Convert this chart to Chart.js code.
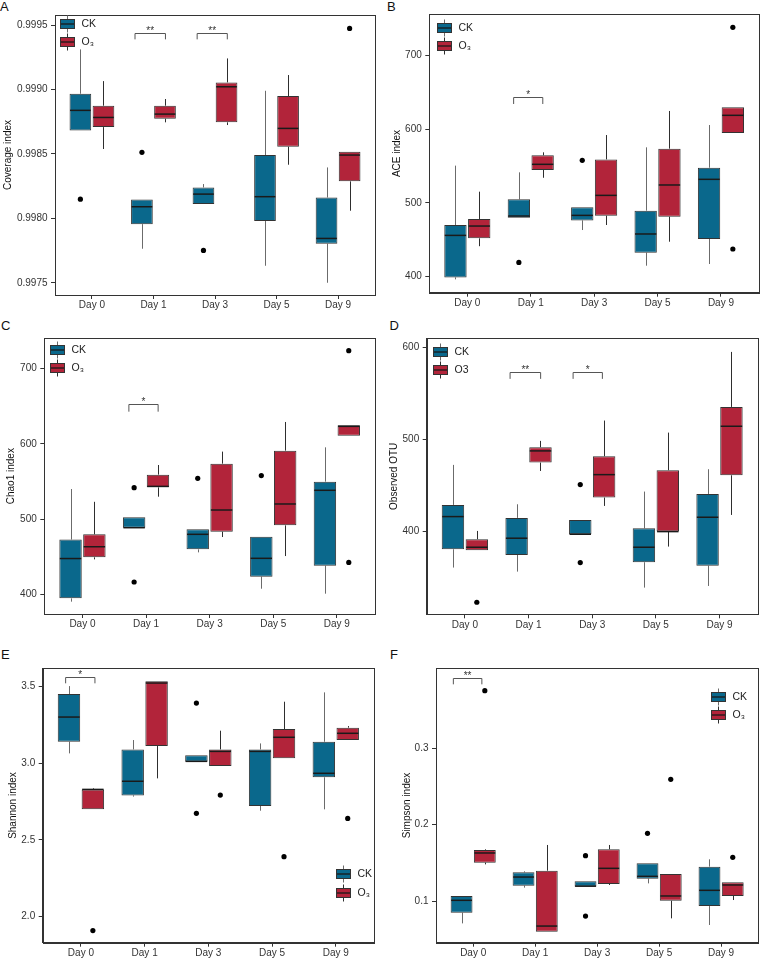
<!DOCTYPE html>
<html>
<head>
<meta charset="utf-8">
<script src="https://cdn.jsdelivr.net/npm/chart.js@4.4.1/dist/chart.umd.min.js"></script>
<style>
  html,body{margin:0;padding:0;background:#fff;}
  body{width:763px;height:959px;position:relative;overflow:hidden;font-family:"Liberation Sans",Arial,Helvetica,sans-serif;}
  .wrap{position:absolute;}
  .tag{position:absolute;font-size:13px;line-height:13px;color:#111;}
</style>
</head>
<body>
<div class="tag" style="left:0px;top:0px">A</div>
<div class="tag" style="left:387px;top:0px">B</div>
<div class="tag" style="left:1px;top:319px">C</div>
<div class="tag" style="left:389.5px;top:318.5px">D</div>
<div class="tag" style="left:1px;top:647.5px">E</div>
<div class="tag" style="left:390px;top:648px">F</div>
<script>
// ---------------- data ----------------
const days = ['Day 0', 'Day 1', 'Day 3', 'Day 5', 'Day 9'];
const groupCK = 'CK';
const groupO3 = 'O\u2083';
const groupO3plain = 'O3';
// each row: [lower whisker, Q1, median, Q3, upper whisker]; outliers: [day index, value]
// significance: [x from, x to (category units), bracket y, tip y, label]

// A  Coverage index
const coverageCK = [
  [0.998682, 0.998682, 0.998838, 0.998967, 0.999311],
  [0.997764, 0.997955, 0.998090, 0.998147, 0.998147],
  [0.998111, 0.998111, 0.998188, 0.998240, 0.998266],
  [0.997632, 0.997979, 0.998168, 0.998491, 0.998990],
  [0.997500, 0.997803, 0.997844, 0.998162, 0.998395]];
const coverageO3 = [
  [0.998538, 0.998708, 0.998783, 0.998874, 0.999065],
  [0.998745, 0.998773, 0.998809, 0.998874, 0.998926],
  [0.998724, 0.998745, 0.999021, 0.999055, 0.999241],
  [0.998416, 0.998556, 0.998698, 0.998949, 0.999112],
  [0.998059, 0.998287, 0.998491, 0.998517, 0.998517]];
const coverageCKOut = [[0, 0.998149], [1, 0.998512], [2, 0.997751]];
const coverageO3Out = [[4, 0.999474]];
const coverageTicks = [0.9975, 0.998, 0.9985, 0.999, 0.9995];
const coverageTickLabels = ['0.9975', '0.9980', '0.9985', '0.9990', '0.9995'];
const coverageSig = [[0.70, 1.195, 0.99944, 0.999389, '**'], [1.71, 2.20, 0.99944, 0.999389, '**']];

// B  ACE index
const aceCK = [
  [395.9, 398.6, 455.7, 469.8, 550.5],
  [479.8, 479.8, 482.0, 504.7, 541.4],
  [463.0, 476.1, 482.9, 493.8, 493.8],
  [414.5, 432.2, 457.6, 489.3, 575.4],
  [416.8, 450.8, 531.9, 547.7, 605.7]];
const aceO3 = [
  [441.0, 451.7, 468.4, 478.0, 515.1],
  [534.0, 544.6, 552.3, 564.5, 568.6],
  [469.8, 482.5, 510.1, 559.0, 592.1],
  [447.1, 481.1, 524.2, 573.6, 624.8],
  [594.9, 594.9, 618.9, 629.8, 629.8]];
const aceCKOut = [[1, 419.0], [2, 557.7]];
const aceO3Out = [[4, 738.5], [4, 437.2]];
const aceTicks = [400, 500, 600, 700];
const aceTickLabels = ['400', '500', '600', '700'];
const aceSig = [[0.73, 1.19, 643.4, 634.3, '*']];

// C  Chao1 index
const chaoCK = [
  [390.3, 394.7, 447.6, 472.9, 540.0],
  [488.6, 488.6, 488.6, 502.4, 502.4],
  [455.8, 459.8, 479.8, 486.4, 486.4],
  [407.5, 423.5, 447.9, 476.7, 476.7],
  [400.9, 438.1, 538.3, 549.8, 595.4]];
const chaoO3 = [
  [446.5, 449.2, 463.3, 479.8, 523.0],
  [529.8, 542.2, 543.5, 559.1, 571.9],
  [476.2, 483.3, 512.1, 573.7, 589.7],
  [450.9, 491.7, 520.1, 591.0, 629.1],
  [610.9, 610.9, 623.3, 624.7, 624.7]];
const chaoCKOut = [[1, 541.8], [1, 416.4], [2, 554.2], [3, 557.8]];
const chaoO3Out = [[4, 723.9], [4, 442.5]];
const chaoTicks = [400, 500, 600, 700];
const chaoTickLabels = ['400', '500', '600', '700'];
const chaoSig = [[0.73, 1.19, 652.6, 642.8, '*']];

// D  Observed OTU
const otuCK = [
  [360.9, 380.8, 416.3, 429.0, 472.5],
  [356.5, 374.6, 392.8, 414.9, 429.7],
  [397.1, 397.1, 397.1, 412.7, 412.7],
  [339.1, 366.7, 383.0, 403.6, 443.5],
  [340.9, 363.0, 415.6, 440.9, 467.8]];
const otuO3 = [
  [379.7, 379.7, 383.0, 391.7, 400.7],
  [465.9, 475.0, 487.7, 491.7, 498.6],
  [427.9, 437.0, 461.9, 481.9, 520.7],
  [383.7, 400.0, 400.0, 466.7, 507.6],
  [418.1, 461.2, 514.5, 535.5, 595.3]];
const otuCKOut = [[2, 451.1], [2, 366.3]];
const otuO3Out = [[0, 323.2]];
const otuTicks = [400, 500, 600];
const otuTickLabels = ['400', '500', '600'];
const otuSig = [[0.71, 1.19, 573.2, 566.0, '**'], [1.70, 2.16, 573.2, 566.0, '*']];

// E  Shannon index
const shannonCK = [
  [3.065, 3.141, 3.302, 3.452, 3.504],
  [2.783, 2.791, 2.883, 3.091, 3.152],
  [3.011, 3.011, 3.013, 3.052, 3.052],
  [2.691, 2.722, 3.078, 3.091, 3.130],
  [2.700, 2.909, 2.935, 3.141, 3.463]];
const shannonO3 = [
  [2.700, 2.700, 2.830, 2.830, 2.837],
  [2.902, 3.113, 3.524, 3.535, 3.535],
  [2.983, 2.983, 3.078, 3.091, 3.213],
  [3.033, 3.033, 3.170, 3.224, 3.402],
  [3.152, 3.152, 3.196, 3.233, 3.243]];
const shannonCKOut = [[2, 3.393], [2, 2.674]];
const shannonO3Out = [[0, 1.909], [2, 2.793], [3, 2.391], [4, 2.641]];
const shannonTicks = [2.0, 2.5, 3.0, 3.5];
const shannonTickLabels = ['2.0', '2.5', '3.0', '3.5'];
const shannonSig = [[-0.24, 0.22, 3.563, 3.522, '*']];

// F  Simpson index
const simpsonCK = [
  [0.0707, 0.0847, 0.1009, 0.1066, 0.1066],
  [0.1175, 0.1201, 0.1314, 0.1376, 0.1389],
  [0.1188, 0.1188, 0.1195, 0.1258, 0.1258],
  [0.1231, 0.1293, 0.1323, 0.1493, 0.1493],
  [0.0686, 0.0934, 0.1140, 0.1450, 0.1546]];
const simpsonO3 = [
  [0.1480, 0.1502, 0.1629, 0.1668, 0.1677],
  [0.0598, 0.0598, 0.0672, 0.1397, 0.1734],
  [0.1210, 0.1223, 0.1428, 0.1677, 0.1734],
  [0.0773, 0.1004, 0.1066, 0.1354, 0.1354],
  [0.1013, 0.1066, 0.1210, 0.1245, 0.1245]];
const simpsonCKOut = [[2, 0.1594], [2, 0.0803], [3, 0.1886]];
const simpsonO3Out = [[0, 0.3755], [3, 0.2594], [4, 0.1572]];
const simpsonTicks = [0.1, 0.2, 0.3];
const simpsonTickLabels = ['0.1', '0.2', '0.3'];
const simpsonSig = [[-0.32, 0.14, 0.3917, 0.3838, '**']];

// ---------------- style / layout ----------------
const FONT = '"Liberation Sans", Arial, Helvetica, sans-serif';
const CK_FILL = '#0a688c';
const O3_FILL = '#b2243a';
const BOX_LINE = '#333333';
const AXIS = '#333333';
const CAT_PCT = 0.75;          // dodge width
const DODGE = CAT_PCT / 4;     // centre offset of each group's box

const panels = [
  {wrap:[0,0,380,317],   yW:55,   padTop:15,   padRight:5,   xH:22,   titlePad:1.8,
   title:'Coverage index', range:[0.997405, 0.999578], ck:coverageCK, o3:coverageO3,
   ckOut:coverageCKOut, o3Out:coverageO3Out, ticks:coverageTicks, tickLabels:coverageTickLabels,
   sig:coverageSig, o3Name:groupO3, legend:{dx:5, dy:9}},
  {wrap:[380,0,383,315], yW:49.3, padTop:14.3, padRight:1.3, xH:22.3, titlePad:11,
   title:'ACE index', range:[377.8, 756.2], ck:aceCK, o3:aceO3,
   ckOut:aceCKOut, o3Out:aceO3Out, ticks:aceTicks, tickLabels:aceTickLabels,
   sig:aceSig, o3Name:groupO3, legend:{dx:8, dy:13.2}},
  {wrap:[0,310,380,326], yW:44.3, padTop:28.3, padRight:5,   xH:22,   titlePad:5.7,
   title:'Chao1 index', range:[373.9, 740.3], ck:chaoCK, o3:chaoO3,
   ckOut:chaoCKOut, o3Out:chaoO3Out, ticks:chaoTicks, tickLabels:chaoTickLabels,
   sig:chaoSig, o3Name:groupO3, legend:{dx:5.7, dy:11.7}},
  {wrap:[380,310,383,326], yW:46.7, padTop:28.3, padRight:5.3, xH:21.7, titlePad:8.7,
   title:'Observed OTU', range:[310.1, 610.1], ck:otuCK, o3:otuO3,
   ckOut:otuCKOut, o3Out:otuO3Out, ticks:otuTicks, tickLabels:otuTickLabels,
   sig:otuSig, o3Name:groupO3plain, legend:{dx:6.6, dy:13.4}},
  {wrap:[0,620,380,339], yW:42.7, padTop:48.3, padRight:6,   xH:16.3, titlePad:7.7,
   title:'Shannon index', range:[1.830, 3.620], ck:shannonCK, o3:shannonO3,
   ckOut:shannonCKOut, o3Out:shannonO3Out, ticks:shannonTicks, tickLabels:shannonTickLabels,
   sig:shannonSig, o3Name:groupO3, legend:{dx:293.3, dy:206}},
  {wrap:[380,620,383,339], yW:56, padTop:48.3, padRight:4.7, xH:16.3, titlePad:21.5,
   title:'Simpson index', range:[0.0454, 0.4048], ck:simpsonCK, o3:simpsonO3,
   ckOut:simpsonCKOut, o3Out:simpsonO3Out, ticks:simpsonTicks, tickLabels:simpsonTickLabels,
   sig:simpsonSig, o3Name:groupO3, legend:{dx:275, dy:28.7}}
];

// ---------------- box-plot plugin (whiskers, medians, frame, brackets, legend) ----------------
const boxPlugin = {
  id: 'boxplot',
  beforeDatasetsDraw(chart) {
    const ctx = chart.ctx, ys = chart.scales.y;
    chart.data.datasets.forEach((ds, di) => {
      if (!ds.stats) return;
      const meta = chart.getDatasetMeta(di);
      ctx.save();
      ctx.strokeStyle = ds.whiskerColor;
      ctx.lineWidth = 1;
      meta.data.forEach((el, j) => {
        const s = ds.stats[j];
        const x = Math.round(el.x) + 0.5;
        ctx.beginPath();
        ctx.moveTo(x, ys.getPixelForValue(s[4])); ctx.lineTo(x, ys.getPixelForValue(s[3]));
        ctx.moveTo(x, ys.getPixelForValue(s[1])); ctx.lineTo(x, ys.getPixelForValue(s[0]));
        ctx.stroke();
      });
      ctx.restore();
    });
  },
  afterDatasetsDraw(chart) {
    const ctx = chart.ctx, ys = chart.scales.y;
    chart.data.datasets.forEach((ds, di) => {
      if (!ds.stats) return;
      const meta = chart.getDatasetMeta(di);
      ctx.save();
      ctx.strokeStyle = '#1a1a1a';
      ctx.lineWidth = 1.5;
      meta.data.forEach((el, j) => {
        const y = ys.getPixelForValue(ds.stats[j][2]);
        ctx.beginPath();
        ctx.moveTo(el.x - el.width / 2 + 0.5, y);
        ctx.lineTo(el.x + el.width / 2 - 0.5, y);
        ctx.stroke();
      });
      ctx.restore();
    });
  },
  afterDraw(chart, args, opts) {
    const ctx = chart.ctx, a = chart.chartArea, xs = chart.scales.x, ys = chart.scales.y;
    ctx.save();
    // frame
    ctx.strokeStyle = AXIS; ctx.lineWidth = 1;
    ctx.strokeRect(Math.round(a.left) + 0.5, Math.round(a.top) + 0.5,
                   Math.round(a.right) - Math.round(a.left), Math.round(a.bottom) - Math.round(a.top));
    // significance brackets
    (opts.sig || []).forEach(s => {
      const x1 = xs.getPixelForValue(s[0]), x2 = xs.getPixelForValue(s[1]);
      const yt = Math.round(ys.getPixelForValue(s[2])) + 0.5, yb = ys.getPixelForValue(s[3]);
      ctx.strokeStyle = '#555'; ctx.lineWidth = 1;
      ctx.beginPath();
      ctx.moveTo(x1, yb); ctx.lineTo(x1, yt); ctx.lineTo(x2, yt); ctx.lineTo(x2, yb);
      ctx.stroke();
      ctx.fillStyle = '#333';
      ctx.font = '10px ' + FONT;
      ctx.textAlign = 'center'; ctx.textBaseline = 'alphabetic';
      ctx.fillText(s[4], (x1 + x2) / 2, yt + 0.5);
    });
    // legend
    const lg = opts.legend;
    const bars = chart.data.datasets.filter(d => d.stats);
    bars.forEach((ds, k) => {
      const L = Math.round(a.left + lg.dx), my = Math.round(a.top + lg.dy + k * 18.3);
      ctx.strokeStyle = ds.whiskerColor; ctx.lineWidth = 1;
      ctx.beginPath(); ctx.moveTo(L + 7.5, my - 8.5); ctx.lineTo(L + 7.5, my + 8.5); ctx.stroke();
      ctx.fillStyle = ds.backgroundColor;
      ctx.fillRect(L, my - 5, 15, 10);
      ctx.strokeStyle = BOX_LINE;
      ctx.strokeRect(L + 0.5, my - 4.5, 14, 9);
      ctx.strokeStyle = '#1a1a1a'; ctx.lineWidth = 1.3;
      ctx.beginPath(); ctx.moveTo(L + 1, my); ctx.lineTo(L + 14, my); ctx.stroke();
      ctx.fillStyle = '#222';
      ctx.font = '10.5px ' + FONT;
      ctx.textAlign = 'left'; ctx.textBaseline = 'middle';
      ctx.fillText(ds.label, L + 21.5, my + 0.5);
    });
    ctx.restore();
  }
};

function buildPanel(p) {
  const wrap = document.createElement('div');
  wrap.className = 'wrap';
  wrap.style.left = p.wrap[0] + 'px'; wrap.style.top = p.wrap[1] + 'px';
  wrap.style.width = p.wrap[2] + 'px'; wrap.style.height = p.wrap[3] + 'px';
  const cv = document.createElement('canvas');
  cv.width = p.wrap[2]; cv.height = p.wrap[3];
  cv.style.width = p.wrap[2] + 'px'; cv.style.height = p.wrap[3] + 'px';
  wrap.appendChild(cv);
  document.body.appendChild(wrap);

  const boxDs = (label, stats, fill, whisker) => ({
    type: 'bar', label, stats, whiskerColor: whisker,
    data: stats.map((s, i) => ({x: i, y: [s[1], s[3]]})),
    backgroundColor: fill, borderColor: BOX_LINE, borderWidth: 1, borderSkipped: false,
    categoryPercentage: CAT_PCT, barPercentage: 0.94, order: 2
  });
  const outDs = (pts, shift) => ({
    type: 'scatter', label: '',
    data: pts.map(o => ({x: o[0] + shift, y: o[1]})),
    pointRadius: 2.6, pointBackgroundColor: '#000', pointBorderWidth: 0, order: 1
  });

  new Chart(cv, {
    type: 'bar',
    data: {
      datasets: [
        boxDs(groupCK, p.ck, CK_FILL, '#6b6b6b'),
        boxDs(p.o3Name, p.o3, O3_FILL, '#2e2e2e'),
        outDs(p.ckOut, -DODGE),
        outDs(p.o3Out, DODGE)
      ]
    },
    options: {
      responsive: false, maintainAspectRatio: false, animation: false, devicePixelRatio: 1,
      events: [],
      layout: {padding: {top: p.padTop, right: p.padRight, left: 0, bottom: 0}},
      plugins: {
        legend: {display: false}, tooltip: {enabled: false}, title: {display: false},
        boxplot: {sig: p.sig, legend: p.legend}
      },
      scales: {
        x: {
          type: 'linear', min: -0.6, max: 4.6, bounds: 'data', offset: false,
          afterBuildTicks: s => { s.ticks = days.map((d, i) => ({value: i})); },
          afterFit: s => { s.height = p.xH; },
          ticks: {callback: (v, i) => days[i], font: {family: FONT, size: 10}, color: '#333',
                  padding: 0.5, maxRotation: 0, autoSkip: false},
          grid: {display: true, offset: false, drawOnChartArea: false, drawTicks: true,
                 tickLength: 4, tickColor: AXIS, tickWidth: 1},
          border: {display: true, color: AXIS, width: 1}
        },
        y: {
          type: 'linear', min: p.range[0], max: p.range[1], bounds: 'data', beginAtZero: false,
          afterBuildTicks: s => { s.ticks = p.ticks.map(v => ({value: v})); },
          afterFit: s => { s.width = p.yW; },
          ticks: {callback: (v, i) => p.tickLabels[i], font: {family: FONT, size: 10}, color: '#333',
                  padding: 3.5, autoSkip: false},
          grid: {display: true, drawOnChartArea: false, drawTicks: true,
                 tickLength: 4, tickColor: AXIS, tickWidth: 1},
          border: {display: true, color: AXIS, width: 1},
          title: {display: true, text: p.title, color: '#111', font: {family: FONT, size: 10},
                  padding: {top: p.titlePad, bottom: 0}}
        }
      }
    },
    plugins: [boxPlugin]
  });
}

panels.forEach(buildPanel);
</script>
</body>
</html>
